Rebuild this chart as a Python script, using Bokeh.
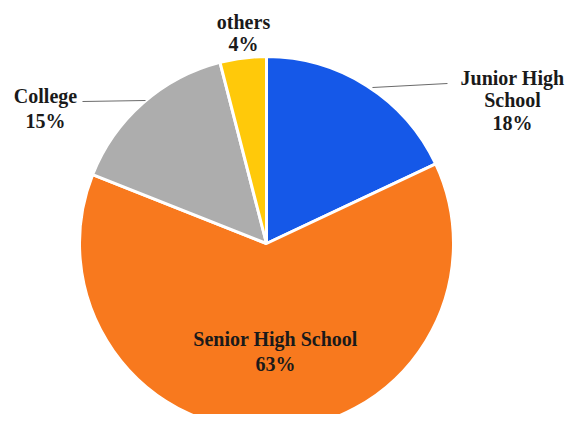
from math import pi
from bokeh.plotting import figure
from bokeh.models import Range1d, ColumnDataSource
from bokeh.core.properties import value
from bokeh.embed import file_html
from bokeh.resources import INLINE

categories = ["Junior High School", "Senior High School", "College", "others"]
shares = [18, 63, 15, 4]
colors = ["#1558E8", "#F8791E", "#ADADAD", "#FFC90A"]
label_lines = [["Junior High", "School", "18%"], ["Senior High School", "63%"], ["College", "15%"], ["others", "4%"]]

# layout (pixel-like data units; y measured upward from image bottom = 430)
W, H = 565, 414
cx, cy, R = 266, 430 - 243, 187
label_pos = [(512, 430 - 77), (275, 430 - 338), (45, 430 - 95), (243, 430 - 21)]
line_gaps = [22.5, 25, 25, 22]
leaders = [[(372, 430 - 87), (447, 430 - 83)], [], [(145, 430 - 100), (82, 430 - 101)], []]

p = figure(width=W, height=H, output_backend="svg", toolbar_location=None,
           x_range=Range1d(0, W), y_range=Range1d(430 - H, 430),
           min_border=0)
p.axis.visible = False
p.grid.visible = False
p.outline_line_color = None
p.background_fill_color = "white"
p.border_fill_color = "white"

total = sum(shares)
starts, ends = [], []
a = pi / 2
for s in shares:
    starts.append(a)
    a -= 2 * pi * s / total
    ends.append(a)

src = ColumnDataSource(dict(start=starts, end=ends, color=colors, cat=categories))
p.wedge(x=cx, y=cy, radius=R, start_angle="start", end_angle="end", direction="clock",
        fill_color="color", line_color="white", line_width=3, source=src)

for seg in leaders:
    if seg:
        p.line([q[0] for q in seg], [q[1] for q in seg], line_color="#6b6b6b", line_width=1.2)

tx, ty, tt = [], [], []
for (x0, y0), lines, g in zip(label_pos, label_lines, line_gaps):
    for i, t in enumerate(lines):
        tx.append(x0)
        ty.append(y0 - i * g)
        tt.append(t)
p.text(x=tx, y=ty, text=tt, text_font=value("Liberation Serif"), text_font_style="bold",
       text_font_size="20px", text_align="center", text_baseline="middle", text_color="#1a1a1a")

open("out.html", "w").write(file_html(p, INLINE))
